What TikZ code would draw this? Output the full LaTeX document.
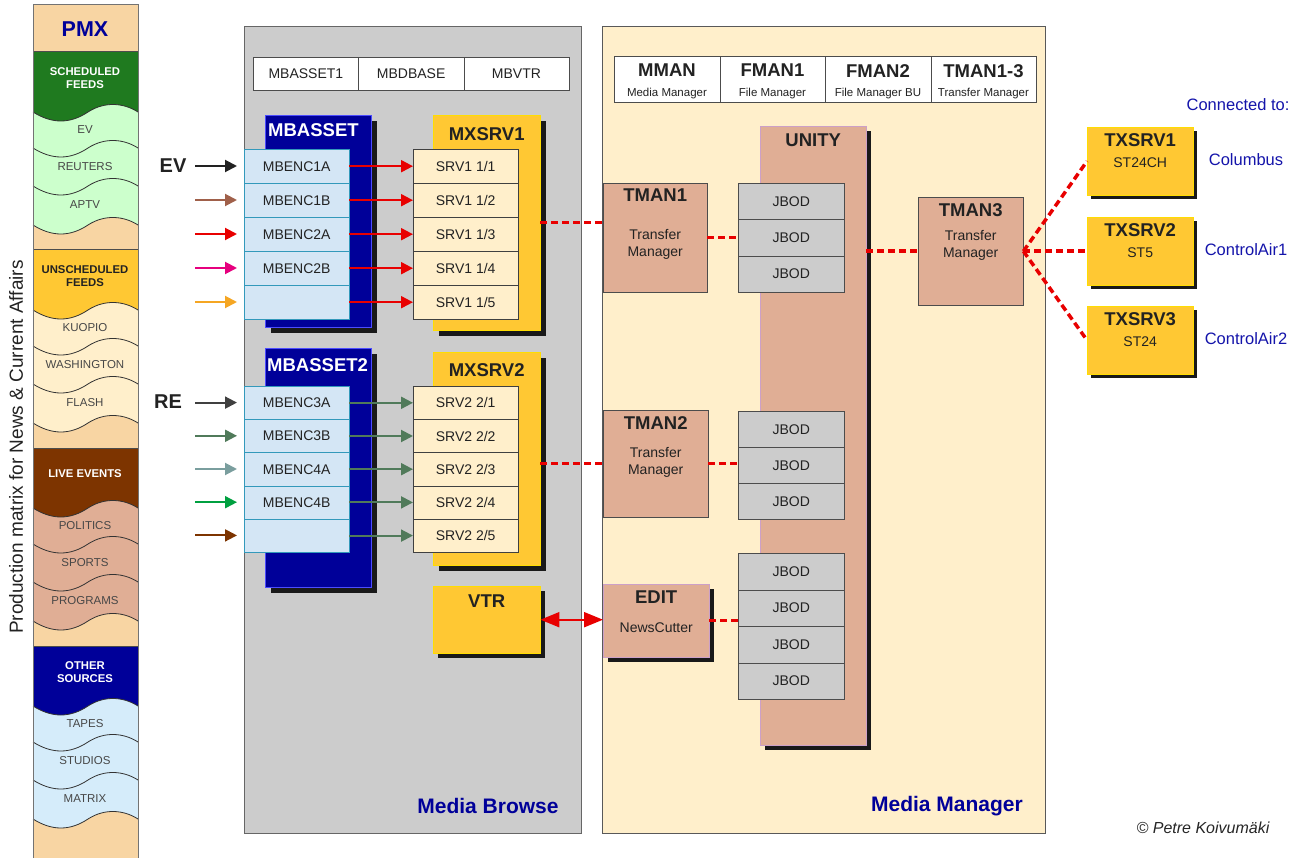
\documentclass[tikz,border=0pt]{standalone}
\usepackage{fontspec}
\setmainfont{Liberation Sans}
\usetikzlibrary{arrows.meta,shadows}

\definecolor{peach}{RGB}{248,213,163}
\definecolor{schedgreen}{RGB}{31,122,31}
\definecolor{feedgreen}{RGB}{204,255,204}
\definecolor{gold}{RGB}{255,200,51}
\definecolor{goldedge}{RGB}{255,221,0}
\definecolor{cream}{RGB}{255,239,203}
\definecolor{livebrown}{RGB}{125,52,0}
\definecolor{salmon}{RGB}{224,174,149}
\definecolor{unityedge}{RGB}{204,160,200}
\definecolor{navy}{RGB}{0,0,153}
\definecolor{skyblue}{RGB}{213,236,250}
\definecolor{panelgray}{RGB}{204,204,204}
\definecolor{encblue}{RGB}{212,230,245}
\definecolor{encedge}{RGB}{51,153,187}
\definecolor{linkred}{RGB}{232,0,0}
\definecolor{txt}{RGB}{34,34,34}
\definecolor{labelblue}{RGB}{20,20,170}
\definecolor{inbrown}{RGB}{160,96,74}
\definecolor{inpink}{RGB}{230,0,126}
\definecolor{inorange}{RGB}{245,166,35}
\definecolor{arrowgreen}{RGB}{80,122,90}
\definecolor{ingray}{RGB}{64,64,64}
\definecolor{inteal}{RGB}{122,158,158}
\definecolor{ingreen}{RGB}{0,160,64}

\newcommand\wavy[1]{(33,#1) .. controls (52,#1+12) and (70,#1+12) .. (88,#1) .. controls (105,#1-11) and (124,#1-9) .. (138,#1)}

\begin{document}
\begin{tikzpicture}[x=1pt, y=-1pt,
    every node/.append style={text=txt},
    box/.style={draw=black!70, inner sep=0pt, anchor=north west},
    shadowed/.style={drop shadow={shadow xshift=#1pt, shadow yshift=-#1pt, opacity=1, fill=black!90}},
    shadowed/.default=6,
    ttl/.style={font=\bfseries\fontsize{18.5}{20}\selectfont, inner sep=0pt, anchor=north},
    sub/.style={font=\fontsize{14}{17}\selectfont, inner sep=0pt, anchor=north, align=center},
    cell/.style={box, minimum width=105pt, font=\fontsize{14}{16}\selectfont},
    enc/.style={cell, fill=encblue, draw=encedge},
    srv/.style={cell, fill=cream, draw=black!75},
    jbod/.style={cell, minimum width=106pt, minimum height=36.3pt, fill=panelgray},
    feed/.style={line width=2pt, -{Triangle[length=12pt,width=12pt]}},
    duplex/.style={draw=linkred, line width=2pt, {Triangle[length=19pt,width=15pt]}-{Triangle[length=19pt,width=15pt]}},
    link/.style={draw=linkred, line width=3.5pt, dash pattern=on 7pt off 4pt},
    colhead/.style={font=\bfseries\fontsize{11.3}{13.5}\selectfont, align=center},
    colitem/.style={font=\fontsize{11.5}{13}\selectfont, text=black!72},
    panel/.style={font=\bfseries\fontsize{21}{24}\selectfont, text=navy},
    conn/.style={font=\fontsize{16.5}{19}\selectfont, text=labelblue},
    srclabel/.style={font=\bfseries\fontsize{20}{22}\selectfont}
]
\useasboundingbox (0,0) rectangle (1300,858);

\fill[peach] (33,5) rectangle (138,858);
\foreach \hc/\lc/\tc/\ttl/\ia/\ib/\ic [count=\k from 0] in {
    schedgreen/feedgreen/white/{SCHEDULED\\FEEDS}/EV/REUTERS/APTV,
    gold/cream/txt/{UNSCHEDULED\\FEEDS}/KUOPIO/WASHINGTON/FLASH,
    livebrown/salmon/white/{LIVE EVENTS}/POLITICS/SPORTS/PROGRAMS,
    navy/skyblue/white/{OTHER\\SOURCES}/TAPES/STUDIOS/MATRIX}
{
    \pgfmathsetmacro\ytop{52+198*\k}
    \pgfmathsetmacro\yhw{\ytop+60}
    \fill[\lc] (138,\ytop) -- (33,\ytop) -- \wavy{\yhw+113} -- cycle;
    \fill[\hc] (138,\ytop) -- (33,\ytop) -- \wavy{\yhw} -- cycle;
    \foreach \dy in {0,36,74,113} \draw[black!80, line width=0.8pt] \wavy{\yhw+\dy};
    \draw[black!70, line width=1pt] (33,\ytop) -- (138,\ytop);
    \node[colhead, text=\tc] (head\k) at (85,\ytop+26) {\ttl};
    \node[colitem] (item\k a) at (85,\yhw+17.5) {\ia};
    \node[colitem] (item\k b) at (85,\yhw+55) {\ib};
    \node[colitem] (item\k c) at (85,\yhw+93) {\ic};
}
\draw[black!55, line width=1pt] (33,858) -- (33,5) -- (138,5) -- (138,858);
\node[font=\bfseries\fontsize{21.5}{24}\selectfont, text=navy] (pmx) at (85,29) {PMX};
\node[rotate=90, font=\fontsize{19}{22}\selectfont] (pmx-title) at (16,447) {Production matrix for News \& Current Affairs};

\node[box, fill=panelgray, draw=black!60, minimum width=337pt, minimum height=807pt] (browse) at (244,26) {};
\node[panel] (browse-name) at (488,806) {Media Browse};
\foreach \nm [count=\i] in {MBASSET1,MBDBASE,MBVTR}
    \node[cell, fill=white, minimum width=105.3pt, minimum height=33pt] (mbtab\i) at ({253+(\i-1)*105.3},57) {\nm};

\node[box, fill=navy, draw=blue!70!white, minimum width=106pt, minimum height=212pt, shadowed,
      label={[ttl, anchor=north west, text=white, xshift=3, yshift=-8]north west:MBASSET}] (mbasset) at (265,115) {};
\node[box, fill=gold, draw=goldedge, minimum width=107pt, minimum height=215pt, shadowed,
      label={[ttl, yshift=-12]north:MXSRV1}] (mxsrv1) at (433,115) {};
\foreach \nm [count=\i] in {MBENC1A,MBENC1B,MBENC2A,MBENC2B,{}}
    \node[enc, minimum height=34pt] (enc-a\i) at (244,{149+(\i-1)*34}) {\nm};
\foreach \i in {1,...,5} {
    \node[srv, minimum height=34pt] (srv-a\i) at (413,{149+(\i-1)*34}) {SRV1 1/\i};
    \draw[feed, draw=linkred] (enc-a\i.east) -- (srv-a\i.west);
}
\foreach \col [count=\i] in {txt,inbrown,linkred,inpink,inorange} {
    \coordinate (src-a\i) at (195,{166+(\i-1)*34});
    \draw[feed, draw=\col, shorten >=7pt] (src-a\i) -- (src-a\i -| enc-a\i.west);
}
\node[srclabel] (ev) at (173,166) {EV};

\node[box, fill=navy, draw=blue!70!white, minimum width=106pt, minimum height=239pt, shadowed,
      label={[ttl, anchor=north west, text=white, xshift=2, yshift=-10]north west:MBASSET2}] (mbasset2) at (265,348) {};
\node[box, fill=gold, draw=goldedge, minimum width=107pt, minimum height=213pt, shadowed,
      label={[ttl, yshift=-11]north:MXSRV2}] (mxsrv2) at (433,352) {};
\foreach \nm [count=\i] in {MBENC3A,MBENC3B,MBENC4A,MBENC4B,{}}
    \node[enc, minimum height=33.2pt] (enc-b\i) at (244,{386+(\i-1)*33.2}) {\nm};
\foreach \i in {1,...,5} {
    \node[srv, minimum height=33.2pt] (srv-b\i) at (413,{386+(\i-1)*33.2}) {SRV2 2/\i};
    \draw[feed, draw=arrowgreen] (enc-b\i.east) -- (srv-b\i.west);
}
\foreach \col [count=\i] in {ingray,arrowgreen,inteal,ingreen,livebrown} {
    \coordinate (src-b\i) at (195,{402.6+(\i-1)*33.2});
    \draw[feed, draw=\col, shorten >=7pt] (src-b\i) -- (src-b\i -| enc-b\i.west);
}
\node[srclabel] (re) at (168,402) {RE};

\node[box, fill=gold, draw=goldedge, minimum width=107pt, minimum height=67pt, shadowed=5,
      label={[ttl, yshift=-9]north:VTR}] (vtr) at (433,586) {};

\node[box, fill=cream, draw=black!65, minimum width=443pt, minimum height=807pt] (manager) at (602,26) {};
\node[panel] (manager-name) at (947,806) {Media Manager};
\foreach \nm/\role [count=\i] in {MMAN/Media Manager,FMAN1/File Manager,FMAN2/File Manager BU,TMAN1-3/Transfer Manager}
    \node[box, fill=white, minimum width=105.5pt, minimum height=46pt,
          label={[ttl, yshift=-8]north:\nm},
          label={[font=\fontsize{11.5}{13}\selectfont, anchor=base, yshift=6]south:\role}] (mmtab\i) at ({614+(\i-1)*105.5},56) {};

\node[box, fill=salmon, draw=unityedge, minimum width=106pt, minimum height=619pt, shadowed=5,
      label={[ttl, yshift=-8]north:UNITY}] (unity) at (760,126) {};
\foreach \i in {1,2,3}
    \node[jbod] (jbod-a\i) at (738,{183+(\i-1)*36.3}) {JBOD};
\foreach \i in {1,2,3}
    \node[jbod, minimum height=36pt] (jbod-b\i) at (738,{411+(\i-1)*36}) {JBOD};
\foreach \i in {1,...,4}
    \node[jbod, minimum height=36.5pt] (jbod-c\i) at (738,{553+(\i-1)*36.5}) {JBOD};

\node[box, fill=salmon, minimum width=104pt, minimum height=109pt,
      label={[ttl, yshift=-6]north:TMAN1}, label={[sub, yshift=-46]north:Transfer\\Manager}] (tman1) at (603,183) {};
\node[box, fill=salmon, minimum width=105pt, minimum height=107pt,
      label={[ttl, yshift=-6]north:TMAN2}, label={[sub, yshift=-37]north:Transfer\\Manager}] (tman2) at (603,410) {};
\node[box, fill=salmon, minimum width=105pt, minimum height=108pt,
      label={[ttl, yshift=-6]north:TMAN3}, label={[sub, yshift=-33]north:Transfer\\Manager}] (tman3) at (918,197) {};
\node[box, fill=salmon, draw=unityedge, minimum width=106pt, minimum height=73pt, shadowed=5,
      label={[ttl, yshift=-7]north:EDIT}, label={[sub, yshift=-39]north:NewsCutter}] (edit) at (603,584) {};

\node[conn] (dest-title) at (1238,105) {Connected to:};
\foreach \nm/\st/\y/\dest [count=\i] in {TXSRV1/ST24CH/127/Columbus,TXSRV2/ST5/217/ControlAir1,TXSRV3/ST24/306/ControlAir2} {
    \node[box, fill=gold, draw=goldedge, minimum width=106pt, minimum height=68pt, shadowed=4,
          label={[ttl, yshift=-6]north:\nm}, label={[sub, yshift=-31]north:\st}] (txsrv\i) at (1087,\y) {};
    \node[conn] (dest\i) at (1246,\y+33) {\dest};
}

\draw[link] (mxsrv1.east) -- (mxsrv1.east -| tman1.west);
\draw[link] (tman1.east) -- (tman1.east -| jbod-a1.west);
\draw[link] (tman2.west -| mxsrv2.east) -- (tman2.west);
\draw[link] (tman2.east) -- (tman2.east -| jbod-b1.west);
\draw[link] (edit.east) -- (edit.east -| jbod-c1.west);
\draw[link] (tman3.west -| unity.east) -- (tman3.west);
\foreach \i in {1,2,3}
    \draw[link] (tman3.east) -- (txsrv\i.west);
\draw[duplex] (vtr.east) -- (vtr.east -| edit.west);

\node[font=\itshape\fontsize{16}{18}\selectfont, text=black!85] (credit) at (1203,828) {© Petre Koivumäki};
\end{tikzpicture}
\end{document}
